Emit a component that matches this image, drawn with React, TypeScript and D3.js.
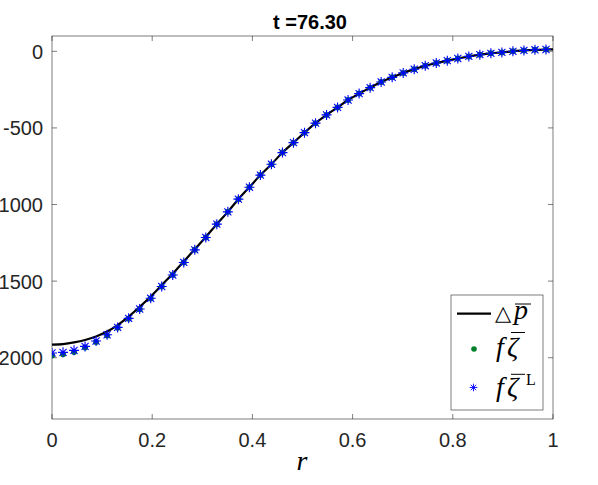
import React from "react";
import * as d3 from "d3";

const rValues = [0, 0.022, 0.044, 0.066, 0.088, 0.110, 0.131, 0.153, 0.175, 0.197, 0.219, 0.241, 0.263, 0.285, 0.307, 0.329, 0.351, 0.372, 0.394, 0.416, 0.438, 0.460, 0.482, 0.504, 0.526, 0.548, 0.570, 0.591, 0.613, 0.635, 0.657, 0.679, 0.701, 0.723, 0.745, 0.767, 0.789, 0.810, 0.832, 0.854, 0.876, 0.898, 0.920, 0.942, 0.964, 0.986];

const zetaLValues = [-1969, -1965, -1952, -1926, -1891, -1850, -1802, -1743, -1682, -1612, -1535, -1460, -1378, -1296, -1215, -1128, -1048, -965, -887, -808, -737, -661, -596, -531, -469, -415, -366, -318, -276, -237, -200, -170, -141, -117, -94, -76, -61, -47, -33, -22, -13, -7, 0, 6, 10, 12];

const zetaValues = [-1985, -1977, -1962, -1934, -1897, -1855, -1805, -1745, -1683, -1613, -1535, -1460, -1378, -1296, -1215, -1128, -1048, -965, -887, -808, -737, -661, -596, -531, -469, -415, -366, -318, -276, -237, -200, -170, -141, -117, -94, -76, -61, -47, -33, -22, -13, -7, 0, 6, 10, 12];

const pBarR = [0, 0.022, 0.044, 0.066, 0.088, 0.110, 0.131, 0.153, 0.175, 0.197, 0.219, 0.241, 0.263, 0.285, 0.307, 0.329, 0.351, 0.372, 0.394, 0.416, 0.438, 0.460, 0.482, 0.504, 0.526, 0.548, 0.570, 0.591, 0.613, 0.635, 0.657, 0.679, 0.701, 0.723, 0.745, 0.767, 0.789, 0.810, 0.832, 0.854, 0.876, 0.898, 0.920, 0.942, 0.964, 0.986, 1];

const pBarValues = [-1915, -1911, -1900, -1884, -1861, -1829, -1787, -1732, -1668, -1600, -1526, -1452, -1372, -1292, -1212, -1128, -1048, -965, -887, -808, -737, -661, -596, -531, -469, -415, -366, -318, -276, -237, -200, -170, -141, -117, -94, -76, -61, -47, -33, -22, -13, -7, 0, 6, 10, 12, 13];

const xTicks = [0, 0.2, 0.4, 0.6, 0.8, 1];
const xTickLabels = ["0", "0.2", "0.4", "0.6", "0.8", "1"];
const yTicks = [0, -500, -1000, -1500, -2000];
const yTickLabels = ["0", "-500", "-1000", "-1500", "-2000"];
const titleText = "t =76.30";
const xLabel = "r";

const W = 598, H = 485;
const L = 52, R = 553, T = 36, B = 419;
const AX = "#262626";
const GREEN = "#00802b";
const BLUE = "#0000ff";
const SANS = "'Liberation Sans', Arial, Helvetica, sans-serif";
const SERIF = "'Liberation Serif', 'Times New Roman', serif";

function starPath(cx: number, cy: number, a: number) {
  const d = a * 0.7071;
  return `M${cx - a},${cy}L${cx + a},${cy}M${cx},${cy - a}L${cx},${cy + a}` +
    `M${cx - d},${cy - d}L${cx + d},${cy + d}M${cx - d},${cy + d}L${cx + d},${cy - d}`;
}

export default function App() {
  const x = d3.scaleLinear().domain([0, 1]).range([L, R]);
  const y = d3.scaleLinear().domain([-2400, 100]).range([B, T]);
  const line = d3
    .line<number>()
    .x((_, i) => x(pBarR[i]))
    .y((d) => y(d))
    .curve(d3.curveCatmullRom);

  const tl = 5;
  return (
    <div style={{ position: "absolute", left: 0, top: 0 }}>
      <svg width={W} height={H} style={{ display: "block", background: "#fff" }}>
        <rect x={0} y={0} width={W} height={H} fill="#fff" />
        <defs>
          <clipPath id="plotclip">
            <rect x={L} y={T} width={R - L} height={B - T} />
          </clipPath>
        </defs>
        <rect x={L} y={T} width={R - L} height={B - T} fill="#fff" stroke={AX} strokeWidth={0.6} />
        {xTicks.map((t, i) => (
          <g key={"xt" + i}>
            <line x1={x(t)} x2={x(t)} y1={B} y2={B - tl} stroke={AX} strokeWidth={0.6} />
            <line x1={x(t)} x2={x(t)} y1={T} y2={T + tl} stroke={AX} strokeWidth={0.6} />
            <text x={x(t)} y={447} textAnchor="middle" fontFamily={SANS} fontSize={20} fill={AX}>
              {xTickLabels[i]}
            </text>
          </g>
        ))}
        {yTicks.map((t, i) => (
          <g key={"yt" + i}>
            <line x1={L} x2={L + tl} y1={y(t)} y2={y(t)} stroke={AX} strokeWidth={0.6} />
            <line x1={R} x2={R - tl} y1={y(t)} y2={y(t)} stroke={AX} strokeWidth={0.6} />
            <text x={43} y={y(t) + 7.5} textAnchor="end" fontFamily={SANS} fontSize={20} fill={AX}>
              {yTickLabels[i]}
            </text>
          </g>
        ))}
        <g clipPath="url(#plotclip)">
          <path d={line(pBarValues) || ""} fill="none" stroke="#000" strokeWidth={2.2} />
          {rValues.map((r, i) => (
            <circle key={"g" + i} cx={x(r)} cy={y(zetaValues[i])} r={3} fill={GREEN} />
          ))}
          {rValues.map((r, i) => (
            <path key={"b" + i} d={starPath(x(r), y(zetaLValues[i]), 5)} stroke={BLUE} strokeWidth={1.1} fill="none" />
          ))}
        </g>
        <text x={310} y={29} textAnchor="middle" fontFamily={SANS} fontWeight="bold" fontSize={20} fill="#000">
          {titleText}
        </text>
        <text x={302} y={470} textAnchor="middle" fontFamily={SERIF} fontStyle="italic" fontSize={28} fill="#000">
          {xLabel}
        </text>
        <g>
          <rect x={451} y={295} width={92} height={115} fill="#fff" stroke={AX} strokeWidth={0.6} />
          <line x1={457} x2={491} y1={313.7} y2={313.7} stroke="#000" strokeWidth={2.2} />
          <text x={495} y={320} fontFamily="'DejaVu Sans', sans-serif" fontSize={21} fill="#000">△</text>
          <text x={514} y={319} fontFamily={SERIF} fontStyle="italic" fontSize={28} fill="#000">p</text>
          <line x1={515} x2={531} y1={304} y2={304} stroke="#000" strokeWidth={1} />

          <circle cx={474} cy={349} r={2.8} fill={GREEN} />
          <text x={496} y={356} fontFamily={SERIF} fontStyle="italic" fontSize={28} fill="#000">f</text>
          <text x={507} y={356} fontFamily={SERIF} fontStyle="italic" fontSize={28} fill="#000">ζ</text>
          <line x1={511} x2={525} y1={332.5} y2={332.5} stroke="#000" strokeWidth={1} />

          <path d={starPath(473.5, 387.5, 3.8)} stroke={BLUE} strokeWidth={0.9} fill="none" />
          <text x={496} y={396} fontFamily={SERIF} fontStyle="italic" fontSize={28} fill="#000">f</text>
          <text x={507} y={396} fontFamily={SERIF} fontStyle="italic" fontSize={28} fill="#000">ζ</text>
          <line x1={511} x2={525} y1={374.3} y2={374.3} stroke="#000" strokeWidth={1} />
          <text x={526} y={385} fontFamily={SERIF} fontSize={16} fill="#000">L</text>
        </g>
      </svg>
    </div>
  );
}
